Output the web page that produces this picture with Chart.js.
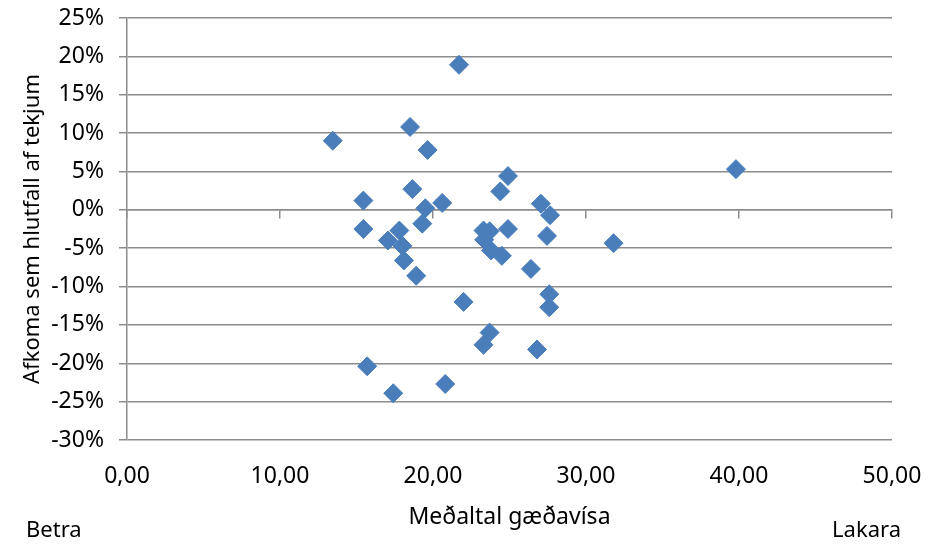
<!DOCTYPE html>
<html>
<head>
<meta charset="utf-8">
<script src="https://cdn.jsdelivr.net/npm/chart.js@4/dist/chart.umd.min.js"></script>
<style>
  html, body { margin: 0; padding: 0; background: #fff; }
  #wrap { position: relative; width: 932px; height: 545px; }
</style>
</head>
<body>
<div id="wrap"><canvas id="chart" width="932" height="545"></canvas></div>
<script>
// meðaltal gæðavísa (x) og afkoma sem % af tekjum (y)
const gaedavisar = [
  13.45, 21.7, 18.5, 19.65, 39.8, 24.9, 24.4, 18.65, 15.45, 19.5,
  20.6, 27.05, 27.65, 15.45, 19.3, 17.8, 17.05, 18.0, 18.1, 18.9,
  23.3, 23.7, 24.9, 23.35, 23.8, 24.5, 27.45, 26.4, 27.6, 27.6,
  22.0, 23.7, 23.3, 26.8, 15.7, 17.4, 20.8, 31.8
];
const afkoma = [
  9.0, 18.9, 10.8, 7.8, 5.3, 4.4, 2.4, 2.7, 1.2, 0.2,
  0.9, 0.8, -0.7, -2.5, -1.8, -2.7, -4.0, -4.7, -6.6, -8.6,
  -2.7, -2.8, -2.5, -3.9, -5.3, -6.0, -3.4, -7.7, -11.0, -12.7,
  -12.0, -16.0, -17.6, -18.2, -20.4, -23.9, -22.7, -4.35
];
const xTitill = 'Meðaltal gæðavísa';
const yTitill = 'Afkoma sem hlutfall af tekjum';
const vinstriTexti = 'Betra';
const haegriTexti = 'Lakara';

const punktar = gaedavisar.map((x, i) => ({ x: x, y: afkoma[i] }));

const grar = '#8c8c8c';
const letur = '"Noto Sans", sans-serif';

// Betra / Lakara undir ásnum
const endaTextar = {
  id: 'endaTextar',
  afterDraw(chart) {
    const ctx = chart.ctx;
    ctx.save();
    ctx.fillStyle = '#000';
    ctx.font = '22px ' + letur;
    ctx.textBaseline = 'alphabetic';
    ctx.textAlign = 'left';
    ctx.fillText(vinstriTexti, 26, 537);
    ctx.textAlign = 'right';
    ctx.fillText(haegriTexti, 901, 537);
    ctx.restore();
  }
};

const chart = new Chart(document.getElementById('chart'), {
  type: 'scatter',
  data: {
    datasets: [{
      data: punktar,
      pointStyle: 'rectRot',
      pointRadius: 9.5,
      pointHoverRadius: 9.5,
      backgroundColor: '#4a7ebb',
      borderColor: '#4a7ebb',
      borderWidth: 1
    }]
  },
  options: {
    responsive: false,
    animation: false,
    events: [],
    layout: { padding: { top: 18, right: 40, bottom: 0, left: 0 } },
    plugins: { legend: { display: false }, tooltip: { enabled: false } },
    scales: {
      x: {
        type: 'linear',
        position: 'bottom',
        min: 0,
        max: 50,
        afterFit(s) { s.height = 105; s.paddingLeft = 0; s.paddingRight = 0; },
        grid: { display: false, drawTicks: false },
        border: { display: false },
        ticks: {
          stepSize: 10,
          padding: 23,
          color: '#000',
          font: { family: letur, size: 23 },
          callback: v => v.toFixed(2).replace('.', ',')
        },
        title: {
          display: true,
          text: xTitill,
          color: '#000',
          font: { family: letur, size: 23 },
          padding: { top: 0, bottom: 14 }
        }
      },
      x2: {
        type: 'linear',
        position: { y: 0 },
        min: 0,
        max: 50,
        afterFit(s) { s.paddingLeft = 0; s.paddingRight = 0; },
        ticks: { display: false, stepSize: 10 },
        grid: { drawOnChartArea: false, drawTicks: true, tickLength: 8, color: grar, lineWidth: 1.5 },
        border: { display: true, color: grar, width: 1.5 }
      },
      y: {
        type: 'linear',
        min: -30,
        max: 25,
        afterFit(s) { s.width = 127; s.paddingTop = 0; s.paddingBottom = 0; },
        grid: { color: grar, lineWidth: 1.5, tickLength: 8 },
        border: { color: grar, width: 1.5 },
        ticks: {
          stepSize: 5,
          padding: 15,
          color: '#000',
          font: { family: letur, size: 23 },
          callback: v => v + '%'
        },
        title: {
          display: true,
          text: yTitill,
          color: '#000',
          font: { family: letur, size: 22 },
          padding: { top: 20, bottom: 0 }
        }
      }
    }
  },
  plugins: [endaTextar]
});
</script>
</body>
</html>
